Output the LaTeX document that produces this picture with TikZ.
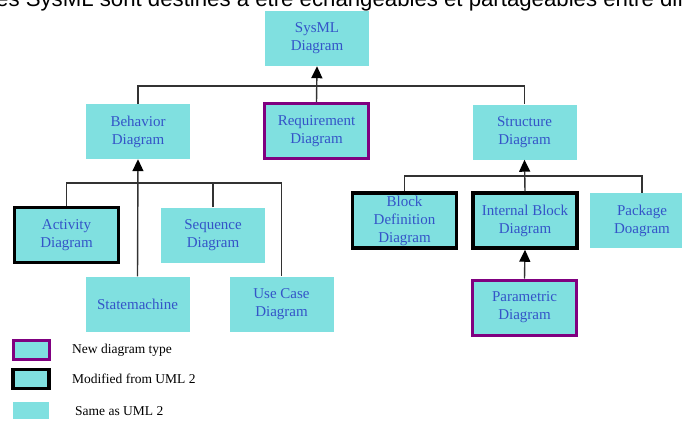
\documentclass[tikz,border=0pt]{standalone}
\usepackage{fontspec}
\setmainfont{Liberation Serif}
\newfontfamily\headfont{Liberation Sans}
\definecolor{sysfill}{RGB}{128,224,224}
\definecolor{systext}{RGB}{52,84,200}
\definecolor{syspurple}{RGB}{128,0,128}
\definecolor{sysline}{RGB}{50,50,50}
\usepackage{tikz}
\usetikzlibrary{arrows.meta, positioning}

\begin{document}
\begin{tikzpicture}[x=1pt, y=-1pt,
    dbox/.style={fill=sysfill, text=systext, minimum width=104pt, minimum height=55pt,
                 inner sep=0pt, align=center, font=\fontsize{15}{18}\selectfont},
    newbox/.style={dbox, draw=syspurple, line width=3pt},
    modbox/.style={dbox, draw=black, line width=3.5pt},
    legbox/.style={fill=sysfill, minimum width=36pt, minimum height=19pt, inner sep=0pt},
    legtext/.style={anchor=west, inner sep=0pt, font=\fontsize{13.5}{16}\selectfont},
    link/.style={draw=sysline, line width=1.4pt},
    gen/.style={link, -{Triangle[width=11pt, length=12pt, color=black, fill=black]}}]
  \useasboundingbox (0,0) rectangle (682,421);
  \clip (0,0) rectangle (682,421);
  % cut-off line of text above the picture
  \node[anchor=base west, inner sep=0pt, font=\headfont\fontsize{22.2}{24}\selectfont] (head) at (-20,6.5)
    {cles SysML sont destinés à être échangeables et partageables entre diff};

  % top levels
  \node[dbox] (sysml) at (317,38.5) {SysML\\Diagram};
  \node[dbox] (behav) at (138,131.5) {Behavior\\Diagram};
  \node[newbox] (req) at (316.5,131) {Requirement\\Diagram};
  \node[dbox] (struct) at (524.5,132) {Structure\\Diagram};

  % behavior diagrams
  \node[modbox] (act) at (66.5,235) {Activity\\Diagram};
  \node[dbox] (seq) at (213,235) {Sequence\\Diagram};
  \node[dbox] (stm) at (137.5,304) {Statemachine};
  \node[dbox] (uc) at (281.5,304) {Use Case\\Diagram};

  % structure diagrams
  \node[modbox] (bdd) at (404.5,220.5) {Block\\Definition\\Diagram};
  \node[modbox] (ibd) at (525,220.5) {Internal Block\\Diagram};
  \node[dbox] (pkg) at (642,220.5) {Package\\Doagram};
  \node[newbox] (par) at (524.5,307.5) {Parametric\\Diagram};

  % connectors
  \coordinate (bus1) at (0,86);
  \coordinate (bus2) at (0,183);
  \coordinate (bus3) at (0,176);
  \draw[link] (behav.north) -- (behav.north |- bus1) -- (struct.north |- bus1) -- (struct.north);
  \draw[gen] (req.north) -- (sysml.south);
  \draw[link] (act.north) -- (act.north |- bus2) -- (uc.north |- bus2) -- (uc.north);
  \draw[link] (seq.north) -- (seq.north |- bus2);
  \draw[gen] (stm.north) -- (behav.south);
  \draw[link] (bdd.north) -- (bdd.north |- bus3) -- (pkg.north |- bus3) -- (pkg.north);
  \draw[gen] (ibd.north) -- (struct.south);
  \draw[gen] (par.north) -- (ibd.south);

  % legend
  \node[legbox, draw=syspurple, line width=3pt] (lnew) at (31,349.5) {};
  \node[legbox, draw=black, line width=3.5pt] (lmod) at (31,379) {};
  \node[legbox, minimum height=17pt] (lsame) at (31,410.5) {};
  \node[legtext] (tnew) at (72,350) {New diagram type};
  \node[legtext] (tmod) at (72,379) {Modified from UML 2};
  \node[legtext] (tsame) at (75,411) {Same as UML 2};
\end{tikzpicture}
\end{document}
